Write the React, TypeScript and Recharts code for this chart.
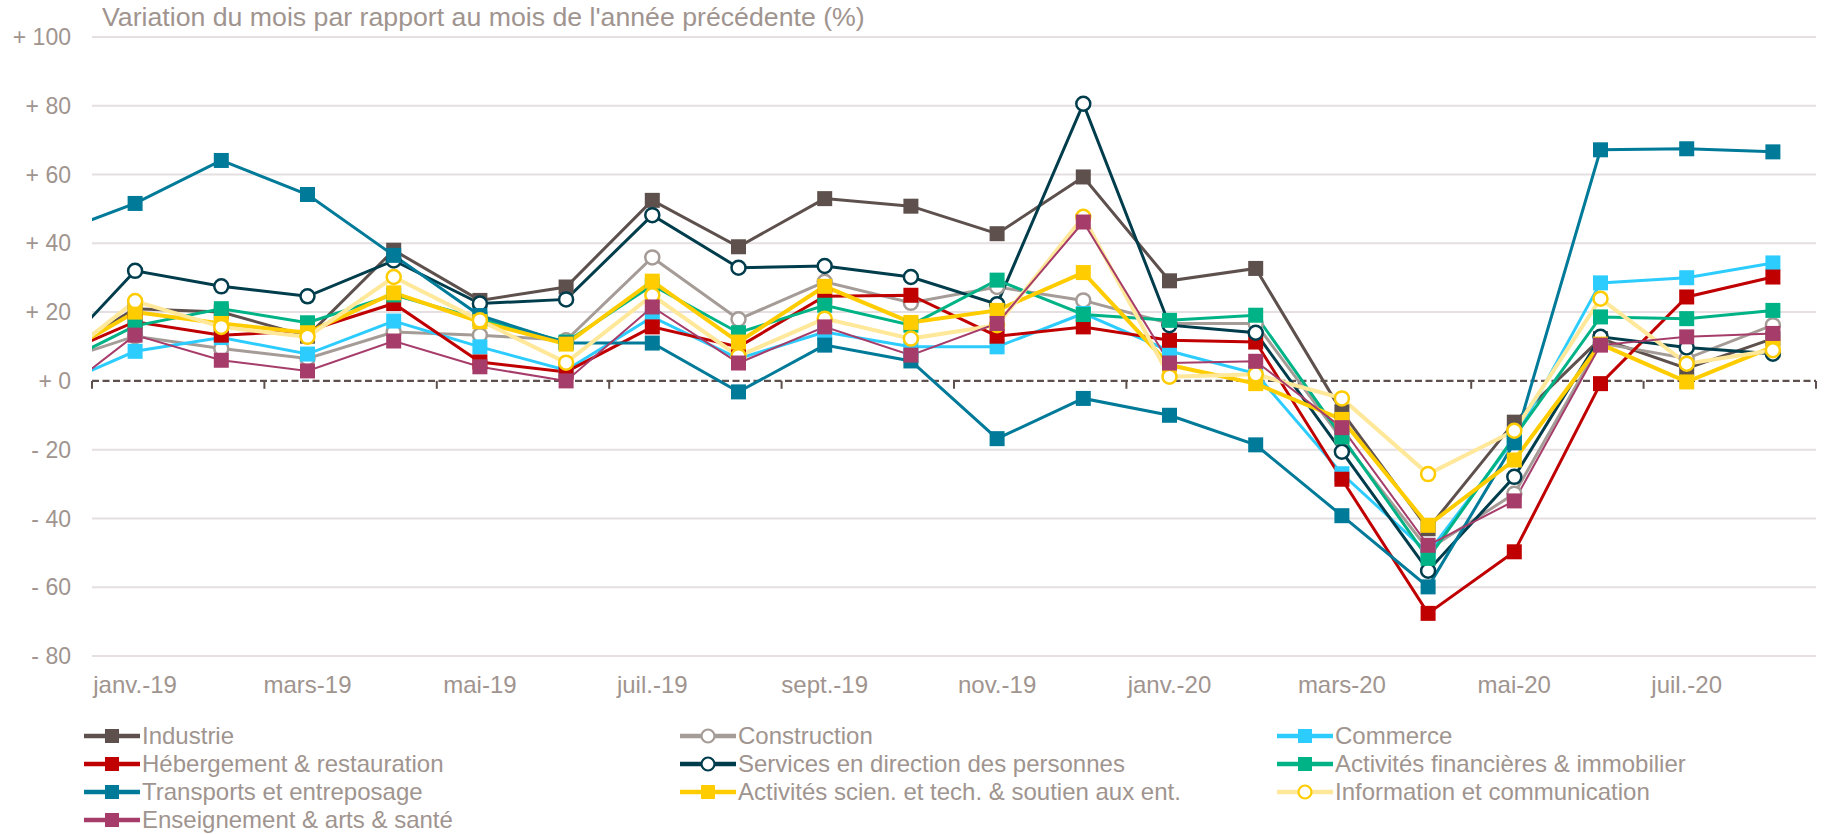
import React from 'react';
import { LineChart, Line, XAxis, YAxis, ReferenceLine } from 'recharts';

// index -1 = déc.-18 (only partly visible at the left edge), 0..19 = janv.-19 .. août-20
const monthIndex = [-1, 0, 1, 2, 3, 4, 5, 6, 7, 8, 9, 10, 11, 12, 13, 14, 15, 16, 17, 18, 19];
const monthLabels = ['déc.-18', 'janv.-19', 'févr.-19', 'mars-19', 'avr.-19', 'mai-19', 'juin-19', 'juil.-19', 'août-19', 'sept.-19', 'oct.-19', 'nov.-19', 'déc.-19', 'janv.-20', 'févr.-20', 'mars-20', 'avr.-20', 'mai-20', 'juin-20', 'juil.-20', 'août-20'];

const industrie = [6, 21, 20, 13, 38, 23.4, 27.3, 52.5, 39, 53, 50.8, 42.8, 59.3, 29.1, 32.7, -9, -43, -12, 12.3, 3.6, 12.3];
const construction = [4.8, 13, 9.4, 6.5, 14.2, 13.3, 11.8, 35.9, 17.9, 28.8, 22.7, 27.3, 23.4, 16.7, 16.7, -17, -49, -32.8, 11, 6.5, 16.2];
const commerce = [-2.4, 8.6, 12.6, 7.8, 17.4, 9.9, 3.1, 18.6, 6.5, 14.2, 9.9, 9.9, 19.6, 8.7, 2.1, -27, -50, -17, 28.5, 30, 34.3];
const hebergement = [6.4, 17.2, 13.3, 14.5, 22.5, 5.5, 2.6, 15.7, 9.9, 24.6, 24.9, 13, 15.7, 11.8, 11.3, -28.6, -67.6, -49.7, -0.8, 24.4, 30.2];
const services = [5.2, 32, 27.5, 24.6, 35, 22.5, 23.7, 48.2, 32.9, 33.4, 30.2, 22.3, 80.6, 16.2, 14, -20.6, -55.2, -27.9, 12.8, 9.7, 7.9];
const financieres = [3.4, 16, 21, 16.9, 25, 18, 11.3, 27.8, 14, 22, 16.2, 29.3, 19.3, 17.6, 19.1, -16.3, -51.6, -16.3, 18.6, 18.1, 20.5];
const transports = [42.2, 51.6, 64.1, 54.2, 36.5, 19, 11, 11, -3.2, 10.4, 5.8, -16.8, -5.1, -10, -18.6, -39.2, -59.9, -18, 67.2, 67.5, 66.6];
const scientifiques = [5.6, 20, 16.7, 14, 25.6, 17.2, 10.7, 29, 11.3, 27.5, 17, 20.5, 31.5, 4.6, -0.8, -11.2, -42, -23, 10.7, -0.3, 9.9];
const information = [3.4, 23.2, 15.7, 12.8, 30.2, 17.6, 5.3, 24.9, 7.2, 18.1, 12.3, 16.2, 47.7, 1.2, 1.9, -5.1, -27.1, -14.5, 23.9, 5, 8.9];
const enseignement = [-6.1, 13.3, 6, 2.9, 11.6, 4.1, 0, 21.5, 5.2, 15.7, 7.5, 16.7, 46.2, 5.2, 5.7, -13.6, -47.8, -34.9, 10.4, 12.8, 13.8];

const yTicks = [-80, -60, -40, -20, 0, 20, 40, 60, 80, 100];
const xTicks = [0, 2, 4, 6, 8, 10, 12, 14, 16, 18];
const gridValues = [-80, -60, -40, -20, 20, 40, 60, 80, 100];
const tickBoundaries = [-0.5, 1.5, 3.5, 5.5, 7.5, 9.5, 11.5, 13.5, 15.5, 17.5, 19.5];

type SeriesDef = {
  key: string;
  name: string;
  values: number[];
  color: string;
  width: number;
  marker: 'square' | 'circle';
  markerColor?: string;
};

const series: SeriesDef[] = [
  { key: 'industrie', name: 'Industrie', values: industrie, color: '#5E514D', width: 3, marker: 'square' },
  { key: 'construction', name: 'Construction', values: construction, color: '#A59C97', width: 3, marker: 'circle' },
  { key: 'commerce', name: 'Commerce', values: commerce, color: '#2DCCFF', width: 3, marker: 'square' },
  { key: 'hebergement', name: 'Hébergement & restauration', values: hebergement, color: '#C00000', width: 3, marker: 'square' },
  { key: 'services', name: 'Services en direction des personnes', values: services, color: '#003D4C', width: 3, marker: 'circle' },
  { key: 'financieres', name: 'Activités financières & immobilier', values: financieres, color: '#00B386', width: 3, marker: 'square' },
  { key: 'transports', name: 'Transports et entreposage', values: transports, color: '#007A99', width: 3, marker: 'square' },
  { key: 'scientifiques', name: 'Activités scien. et tech. & soutien aux ent.', values: scientifiques, color: '#FFCC00', width: 4, marker: 'square' },
  { key: 'information', name: 'Information et communication', values: information, color: '#FFE89A', width: 4, marker: 'circle', markerColor: '#FFCC00' },
  { key: 'enseignement', name: 'Enseignement & arts & santé', values: enseignement, color: '#A63C6A', width: 2, marker: 'square' },
];

const data = monthIndex.map((i, k) => {
  const row: Record<string, number> = { i };
  series.forEach((s) => {
    row[s.key] = s.values[k];
  });
  return row;
});

const TEXT_COLOR = '#A0948F';
const FONT = '"Liberation Sans", Arial, sans-serif';

const fmtY = (v: number) => (v < 0 ? `- ${Math.abs(v)}` : `+ ${v}`);
const fmtX = (v: number) => monthLabels[v + 1] ?? '';

const makeSquareDot = (color: string, size: number) => (props: any) => {
  const { cx, cy, index } = props;
  if (cx == null || cy == null) return <g key={`e-${index}`} />;
  return <rect key={`sq-${index}`} x={cx - size / 2} y={cy - size / 2} width={size} height={size} fill={color} />;
};

const LegendSymbol = ({ s }: { s: SeriesDef }) => (
  <svg width={56} height={22} style={{ display: 'block', flex: 'none' }}>
    <line x1={0} y1={11} x2={56} y2={11} stroke={s.color} strokeWidth={4.5} />
    {s.marker === 'square' ? (
      <rect x={21} y={4} width={14} height={14} fill={s.color} />
    ) : (
      <circle cx={28} cy={11} r={6.5} fill="#fff" stroke={s.markerColor ?? s.color} strokeWidth={2.2} />
    )}
  </svg>
);

const legendCols = [84, 680, 1277];
const legendRows = [736, 764, 792, 820];

export default function App() {
  return (
    <div style={{ position: 'absolute', left: 0, top: 0, width: 1824, height: 834, background: '#fff', fontFamily: FONT, overflow: 'hidden' }}>
      <div style={{ position: 'absolute', left: 102, top: 4, fontSize: 26.7, lineHeight: '26px', color: TEXT_COLOR, whiteSpace: 'nowrap' }}>
        Variation du mois par rapport au mois de l'année précédente (%)
      </div>
      <LineChart width={1824} height={834} data={data} margin={{ top: 37, right: 8, left: 0, bottom: 138 }}>
        <XAxis
          dataKey="i"
          type="number"
          domain={[-0.5, 19.5]}
          allowDataOverflow
          ticks={xTicks}
          tickFormatter={fmtX}
          axisLine={false}
          tickLine={false}
          tickMargin={14}
          height={40}
          interval={0}
          tick={{ fill: TEXT_COLOR, fontSize: 24, fontFamily: FONT }}
        />
        <YAxis
          type="number"
          domain={[-80, 100]}
          ticks={yTicks}
          tickFormatter={fmtY}
          axisLine={false}
          tickLine={false}
          tickMargin={15}
          width={92}
          interval={0}
          tick={{ fill: TEXT_COLOR, fontSize: 23, fontFamily: FONT }}
        />
        {gridValues.map((v) => (
          <ReferenceLine key={`g${v}`} y={v} stroke="#E6DFE1" strokeWidth={2} />
        ))}
        <ReferenceLine y={0} stroke="#5E514D" strokeWidth={2.4} strokeDasharray="7 3.5" />
        {tickBoundaries.map((b) => (
          <ReferenceLine
            key={`t${b}`}
            segment={[{ x: b, y: 0 }, { x: b, y: -2.3 }]}
            stroke="#5E514D"
            strokeWidth={2}
          />
        ))}
        {series.map((s) => (
          <Line
            key={s.key}
            dataKey={s.key}
            name={s.name}
            stroke={s.color}
            strokeWidth={s.width}
            isAnimationActive={false}
            activeDot={false}
            dot={
              s.marker === 'square'
                ? makeSquareDot(s.color, 15)
                : { r: 7, fill: '#fff', stroke: s.markerColor ?? s.color, strokeWidth: 2.5 }
            }
          />
        ))}
      </LineChart>
      {series.map((s, k) => {
        const col = k % 3;
        const row = Math.floor(k / 3);
        return (
          <div
            key={s.key}
            style={{
              position: 'absolute',
              left: legendCols[col],
              top: legendRows[row] - 14,
              height: 28,
              display: 'flex',
              alignItems: 'center',
              whiteSpace: 'nowrap',
            }}
          >
            <LegendSymbol s={s} />
            <span style={{ marginLeft: 2, fontSize: 24, lineHeight: '28px', color: TEXT_COLOR }}>{s.name}</span>
          </div>
        );
      })}
    </div>
  );
}
